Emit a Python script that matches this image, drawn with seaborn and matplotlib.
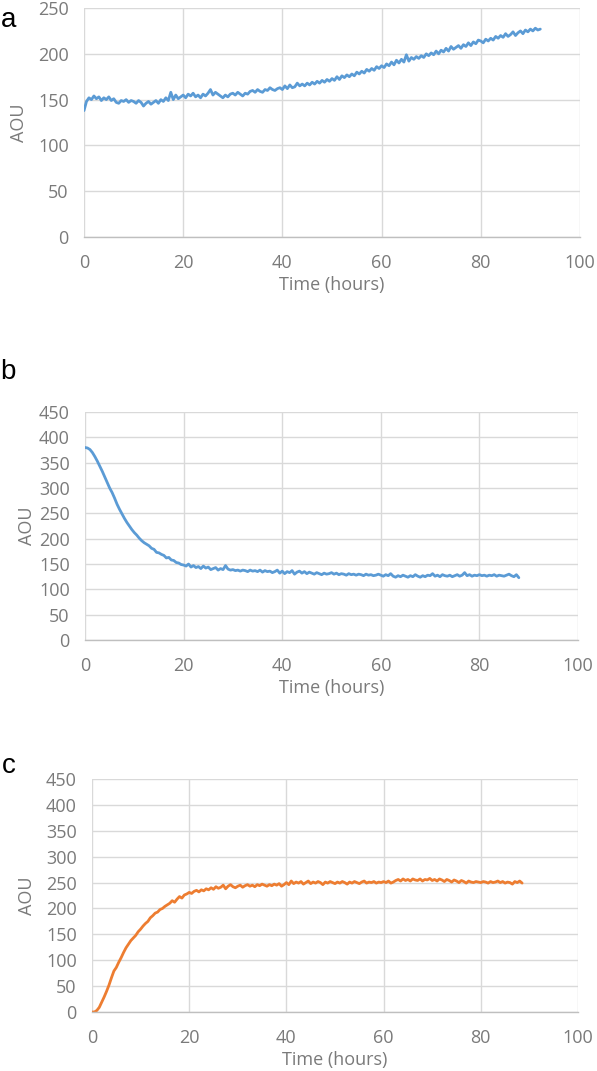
import numpy as np
import matplotlib
matplotlib.use("Agg")
import matplotlib.pyplot as plt
import seaborn as sns

step_hours = 0.5

aou_a = [
    138, 148, 152, 150, 154, 151, 153, 149, 152, 150, 153, 149, 151, 147, 146, 149, 148, 150, 147, 149,
    148, 146, 149, 147, 143, 146, 148, 145, 147, 149, 146, 150, 148, 152, 149, 158, 150, 155, 151, 153,
    155, 152, 156, 154, 157, 153, 155, 152, 156, 154, 157, 161, 155, 158, 156, 154, 152, 155, 153, 156,
    157, 155, 158, 156, 154, 157, 156, 159, 160, 158, 161, 159, 158, 161, 160, 163, 161, 160, 162, 163,
    161, 165, 162, 166, 163, 164, 168, 165, 167, 165, 168, 166, 169, 167, 170, 168, 171, 169, 172, 170,
    173, 171, 175, 172, 176, 174, 177, 175, 178, 176, 180, 178, 181, 179, 183, 181, 184, 182, 186, 184,
    187, 185, 189, 187, 191, 188, 193, 190, 194, 191, 199, 192, 196, 194, 197, 195, 198, 196, 200, 198,
    201, 199, 203, 200, 204, 202, 206, 203, 208, 205, 207, 209, 206, 210, 208, 212, 209, 213, 211, 215,
    214, 212, 216, 214, 217, 215, 219, 217, 220, 218, 222, 219, 221, 224, 220, 223, 225, 222, 226, 224,
    227, 225, 228, 226, 227,
]

aou_b = [
    380, 379, 376, 370, 362, 353, 343, 333, 322, 311, 300, 291, 280, 268, 258, 249, 240, 232, 225, 218,
    212, 207, 201, 196, 192, 189, 186, 181, 179, 173, 172, 169, 167, 162, 163, 158, 157, 153, 152, 149,
    148, 146, 150, 144, 147, 143, 145, 141, 146, 142, 144, 139, 141, 143, 138, 141, 139, 147, 140, 138,
    139, 137, 138, 136, 138, 137, 135, 138, 136, 137, 135, 138, 134, 137, 135, 136, 133, 135, 138, 132,
    136, 131, 135, 133, 137, 130, 134, 136, 132, 135, 131, 134, 132, 130, 133, 131, 129, 132, 130, 131,
    133, 130, 132, 129, 131, 130, 128, 131, 129, 130, 128, 130, 129, 127, 130, 128, 129, 127, 128, 130,
    128, 126, 129, 127, 131, 126, 124, 127, 125, 128, 126, 124, 127, 125, 129, 126, 124, 127, 125, 128,
    127, 131, 126, 128, 125, 129, 127, 126, 128, 125, 127, 129, 126, 128, 133, 127, 129, 126, 128, 127,
    129, 127, 128, 126, 128, 127, 129, 126, 128, 127, 126, 128, 130, 127, 125, 129,
    123,
]

aou_c = [
    0, 0, 3, 9, 19, 29, 40, 52, 66, 79, 86, 96, 105, 115, 124, 131, 138, 143, 148, 155,
    160, 166, 171, 175, 182, 186, 191, 193, 198, 200, 204, 207, 210, 215, 212, 218, 223, 220, 226, 228,
    231, 229, 233, 235, 232, 236, 234, 238, 236, 240, 237, 242, 239, 241, 245, 238, 243, 246, 242, 240,
    243, 245, 241, 244, 246, 243, 245, 242, 246, 244, 247, 245, 243, 246, 244, 247, 245, 248, 243, 246,
    250, 246, 253, 248, 251, 249, 252, 247, 250, 253, 248, 251, 249, 252, 250, 246, 251, 249, 252, 250,
    248, 251, 249, 252, 250, 247, 251, 249, 252, 250, 248, 251, 253, 249, 251, 250, 252, 249, 251, 250,
    252, 250, 253, 249, 251, 254, 256, 253, 257, 254, 256, 253, 257, 255, 254, 257, 253, 256, 255, 258,
    254, 256, 253, 257, 255, 252, 256, 254, 251, 255, 253, 250, 254, 252, 249, 253, 251, 250, 252, 251,
    250, 252, 251, 249, 252, 250, 251, 253, 250, 252, 249, 251, 250, 247, 252, 250, 253, 249,
]

x_ticks = [0, 20, 40, 60, 80, 100]
y_ticks_a = [0, 50, 100, 150, 200, 250]
y_ticks_bc = [0, 50, 100, 150, 200, 250, 300, 350, 400, 450]

blue = "#5b9bd5"
orange = "#ed7d31"
grid_col = "#d9d9d9"
text_col = "#7a7a7a"

sns.set_style("white")
plt.rcParams['font.family'] = ['Open Sans', 'DejaVu Sans']

fig = plt.figure(figsize=(5.97, 10.71), dpi=100)

# panel rectangles in figure fractions (left, bottom, width, height)
panels = [
    ("a", aou_a, blue, y_ticks_a, [0.1407, 0.7787, 0.8308, 0.2138], -0.112, 0.981),
    ("b", aou_b, blue, y_ticks_bc, [0.1424, 0.4024, 0.8258, 0.2129], -0.099, 0.653),
    ("c", aou_c, orange, y_ticks_bc, [0.1541, 0.0551, 0.8141, 0.2175], -0.116, 0.285),
]

for letter, vals, col, yt, rect, ylab_x, letter_y in panels:
    ax = fig.add_axes(rect)
    t = np.arange(len(vals)) * step_hours
    sns.lineplot(x=t, y=vals, ax=ax, color=col, linewidth=2.0)
    ax.set_xlim(0, 100)
    ax.set_ylim(yt[0], yt[-1])
    ax.set_xticks(x_ticks)
    ax.set_yticks(yt)
    ax.grid(True, color=grid_col, linewidth=1.0)
    ax.set_axisbelow(True)
    for s in ["top", "right", "left"]:
        ax.spines[s].set_visible(False)
    ax.spines["bottom"].set_color("#bfbfbf")
    ax.spines["bottom"].set_linewidth(1.0)
    ax.tick_params(axis="both", length=0, labelsize=13, colors=text_col)
    ax.tick_params(axis="x", pad=12)
    ax.tick_params(axis="y", pad=11)
    ax.set_xlabel("Time (hours)", fontsize=13, color=text_col, labelpad=3)
    ax.set_ylabel("AOU", fontsize=13, color=text_col)
    ax.yaxis.set_label_coords(ylab_x, 0.5)
    fig.text(0.014, letter_y, letter, fontsize=20, color="black",
             family="Liberation Sans", ha="center", va="center")

fig.savefig("out.png", dpi=100)
